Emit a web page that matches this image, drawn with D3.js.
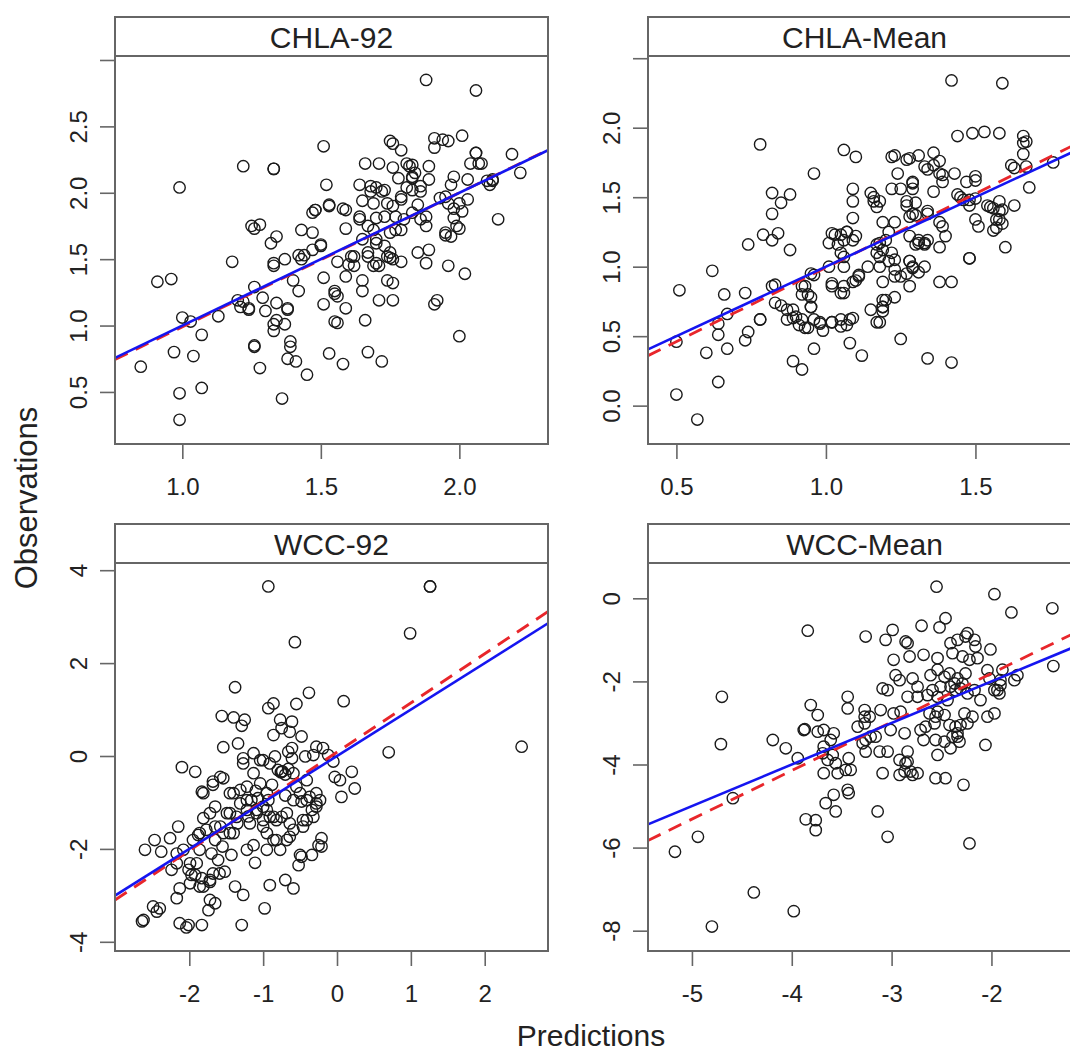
<!DOCTYPE html>
<html>
<head>
<meta charset="utf-8">
<script src="https://cdnjs.cloudflare.com/ajax/libs/d3/7.8.5/d3.min.js"></script>
<style>
body { margin: 0; background: #fff; }
svg { display: block; font-family: "Liberation Sans", Arial, sans-serif; }
</style>
</head>
<body>
<svg id="chart" width="1070" height="1055"></svg>
<script>
// panel titles
var panelNames = ["CHLA-92", "CHLA-Mean", "WCC-92", "WCC-Mean"];

var chla92 = [
  [1.88,2.85],[2.06,2.77],[1.51,2.35],[1.22,2.20],[1.33,2.18],[1.33,2.18],[0.99,2.04],[1.52,2.06],[1.75,2.39],[1.76,2.37],
  [1.79,2.32],[1.91,2.41],[1.94,2.40],[1.96,2.39],[2.01,2.43],[1.91,2.34],[2.06,2.30],[2.19,2.29],[2.22,2.15],[2.14,1.80],
  [2.04,2.22],[2.08,2.22],[2.03,2.10],[1.98,2.12],[2.12,2.09],[2.11,2.06],[1.97,2.06],[1.93,1.96],[1.96,1.92],[2.03,1.95],
  [2.01,1.86],[1.98,1.81],[2.00,1.73],[1.95,1.70],[1.97,1.67],[1.96,1.45],[2.02,1.39],[2.00,0.92],[1.92,1.19],[1.91,1.16],
  [1.88,1.47],[1.85,1.55],[1.89,1.57],[1.88,1.75],[1.86,1.80],[1.83,1.85],[1.85,1.91],[1.89,2.10],[1.89,2.20],[1.83,2.21],
  [1.83,2.12],[1.86,2.05],[1.81,2.04],[1.79,1.95],[1.76,2.19],[1.71,2.22],[1.66,2.22],[1.68,2.05],[1.70,2.04],[1.72,2.01],
  [1.64,2.06],[1.65,1.94],[1.69,1.92],[1.74,1.92],[1.76,1.90],[1.77,1.82],[1.79,1.72],[1.75,1.70],[1.70,1.81],[1.64,1.82],
  [1.67,1.75],[1.59,1.73],[1.65,1.65],[1.70,1.65],[1.73,1.60],[1.75,1.55],[1.76,1.50],[1.79,1.48],[1.74,1.52],[1.69,1.45],
  [1.67,1.52],[1.62,1.52],[1.60,1.46],[1.56,1.48],[1.59,1.37],[1.71,1.45],[1.74,1.34],[1.76,1.32],[1.71,1.19],[1.76,1.19],
  [1.65,1.26],[1.66,1.04],[1.67,0.80],[1.72,0.73],[1.58,0.71],[1.53,0.79],[1.55,1.03],[1.56,1.02],[1.59,1.13],[1.56,1.22],
  [1.55,1.26],[1.51,1.16],[1.51,1.36],[1.45,0.63],[1.39,0.84],[1.38,0.75],[1.41,0.73],[1.36,0.45],[1.28,0.68],[1.26,0.84],
  [1.33,1.01],[1.33,0.96],[1.37,1.01],[1.38,1.13],[1.34,1.17],[1.30,1.11],[1.29,1.21],[1.26,1.29],[1.42,1.26],[1.40,1.34],
  [1.33,1.45],[1.37,1.50],[1.43,1.50],[1.44,1.53],[1.50,1.60],[1.47,1.57],[1.32,1.62],[1.34,1.67],[1.43,1.72],[1.47,1.70],
  [1.25,1.75],[1.28,1.76],[1.26,1.73],[1.47,1.85],[1.48,1.87],[1.53,1.90],[1.58,1.88],[1.59,1.87],[1.18,1.48],[1.20,1.19],
  [1.21,1.14],[1.24,1.12],[1.13,1.07],[1.00,1.06],[1.03,1.03],[1.07,0.93],[0.97,0.80],[1.04,0.77],[0.85,0.69],[0.99,0.49],
  [1.07,0.53],[0.99,0.29],[0.91,1.33],[0.96,1.35],
  [1.68,2.01],[1.73,2.02],[1.78,2.11],[1.82,2.20],[1.83,2.11],[1.79,1.97],[1.83,2.02],[1.86,2.01],[1.73,1.82],[1.64,1.80],
  [1.69,1.72],[1.75,1.51],[1.48,1.87],[1.42,1.53],[1.50,1.61],[1.61,1.52],[1.62,1.45],[1.67,1.55],[1.70,1.47],[1.70,1.62],
  [1.77,1.72],[1.80,1.80],[1.88,1.82],[1.95,1.97],[1.98,1.88],[2.00,1.92],[1.99,1.75],[1.95,1.68],[2.06,2.30],[2.07,2.22],
  [2.10,2.09],[1.81,2.22],[1.65,1.34],[1.55,1.24],[1.33,1.47],[1.34,1.04],[1.38,1.12],[1.39,0.88],[1.26,0.85],[1.24,1.13],
  [1.22,1.18],[1.53,1.91],[1.84,2.15],[2.12,2.10]
];

var chlaMean = [
  [1.42,2.34],[1.59,2.32],[0.78,1.88],[1.06,1.84],[1.10,1.79],[0.96,1.67],[1.44,1.94],[1.49,1.96],[1.53,1.97],[1.58,1.96],
  [1.66,1.94],[1.67,1.90],[1.66,1.81],[1.62,1.73],[1.63,1.71],[1.67,1.72],[1.68,1.57],[1.76,1.75],[1.63,1.44],[1.60,1.14],
  [1.57,1.28],[1.58,1.34],[1.59,1.41],[1.56,1.42],[1.54,1.44],[1.58,1.47],[1.50,1.65],[1.50,1.62],[1.47,1.61],[1.45,1.50],
  [1.48,1.48],[1.50,1.34],[1.51,1.29],[1.48,1.06],[1.48,1.06],[1.38,0.89],[1.42,0.89],[1.42,0.31],[1.34,0.34],[1.25,0.48],
  [1.38,1.32],[1.39,1.29],[1.38,1.14],[1.40,1.22],[1.34,1.19],[1.33,1.00],[1.34,1.38],[1.36,1.54],[1.39,1.66],[1.36,1.73],
  [1.36,1.82],[1.38,1.76],[1.33,1.72],[1.31,1.80],[1.28,1.78],[1.23,1.80],[1.22,1.79],[1.24,1.67],[1.29,1.61],[1.29,1.56],
  [1.25,1.56],[1.22,1.56],[1.30,1.46],[1.27,1.44],[1.29,1.38],[1.28,1.36],[1.28,1.22],[1.31,1.19],[1.30,1.16],[1.33,1.17],
  [1.28,1.04],[1.29,1.00],[1.31,0.96],[1.28,0.86],[1.25,0.93],[1.23,1.32],[1.21,1.25],[1.22,1.10],[1.23,1.05],[1.23,0.93],
  [1.23,0.78],[1.20,0.76],[1.19,0.71],[1.19,0.68],[1.18,0.60],[1.15,0.69],[1.19,0.89],[1.18,1.00],[1.17,1.10],[1.18,1.17],
  [1.20,1.19],[1.19,1.32],[1.15,1.53],[1.16,1.50],[1.18,1.47],[1.17,1.43],[1.14,1.00],[1.11,0.93],[1.09,0.89],[1.09,1.56],
  [1.09,1.47],[1.09,1.35],[1.07,1.25],[1.10,1.22],[1.06,1.19],[1.03,1.23],[1.01,1.17],[1.05,1.10],[1.06,1.00],[1.01,1.00],
  [1.02,0.86],[1.06,0.81],[1.05,0.62],[1.07,0.58],[1.09,0.63],[1.02,0.60],[0.99,0.54],[0.98,0.59],[0.96,0.62],[0.94,0.56],
  [0.96,0.41],[0.95,0.71],[0.94,0.80],[0.96,0.94],[0.92,0.86],[0.89,0.69],[0.90,0.64],[0.87,0.62],[0.91,0.58],[0.85,0.72],
  [0.82,0.86],[0.89,0.32],[0.92,0.26],[1.12,0.36],[1.08,0.45],[0.88,1.12],[0.82,1.19],[0.79,1.23],[0.84,1.24],[0.82,1.38],
  [0.85,1.46],[0.82,1.53],[0.88,1.52],[0.74,1.16],[0.73,0.81],[0.78,0.62],[0.78,0.62],[0.74,0.53],[0.73,0.47],[0.62,0.97],
  [0.51,0.83],[0.66,0.80],[0.67,0.66],[0.67,0.41],[0.64,0.51],[0.60,0.38],[0.50,0.46],[0.64,0.17],[0.50,0.08],[0.57,-0.10],
  [0.64,0.59],
  [1.27,1.77],[1.34,1.70],[1.38,1.67],[1.39,1.61],[1.43,1.67],[1.29,1.60],[1.16,1.47],[1.27,1.47],[1.30,1.37],[1.34,1.40],
  [1.02,1.24],[1.05,1.23],[1.07,1.25],[1.09,1.19],[1.04,1.16],[1.06,1.07],[1.17,1.16],[1.19,1.12],[1.18,1.07],[1.21,1.04],
  [1.23,0.98],[1.28,1.04],[1.29,0.99],[1.27,0.95],[1.31,1.17],[1.33,1.16],[1.55,1.43],[1.58,1.40],[1.57,1.34],[1.59,1.31],
  [1.56,1.26],[1.19,0.76],[1.19,0.71],[1.17,0.60],[1.02,0.88],[1.05,0.81],[1.06,0.86],[1.10,0.90],[1.11,0.94],[0.95,0.95],
  [0.93,0.86],[0.92,0.80],[0.95,0.78],[0.95,0.71],[0.83,0.87],[0.83,0.74],[0.87,0.69],[0.89,0.63],[0.92,0.62],[0.93,0.56],
  [0.98,0.60],[1.02,0.60],[1.05,0.57],[1.08,0.62],[1.44,1.52],[1.46,1.48],[1.48,1.44],[1.50,1.49],[1.66,1.89]
];

var wcc92 = [
  [-0.93,3.65],[1.26,3.65],[1.26,3.65],[0.99,2.64],[-0.57,2.45],[2.50,0.20],[0.70,0.08],[-1.38,1.48],[-0.38,1.36],[0.09,1.18],
  [-0.93,1.03],[-0.86,1.13],[-0.55,1.12],[-1.56,0.86],[-1.40,0.83],[-1.25,0.78],[-1.29,0.65],[-0.77,0.78],[-0.61,0.74],[-0.86,0.45],
  [-0.75,0.60],[-0.64,0.52],[-0.48,0.42],[-1.54,0.19],[-1.34,0.27],[-1.27,-0.05],[-1.13,0.06],[-1.00,-0.09],[-0.84,-0.01],[-0.66,0.09],
  [-0.61,-0.05],[-0.43,-0.01],[-0.32,0.02],[-0.19,0.17],[-0.05,-0.12],[-0.03,-0.45],[0.20,-0.34],[0.24,-0.70],[0.06,-0.88],[-2.10,-0.24],
  [-1.92,-0.34],[-1.54,-0.48],[-1.68,-0.62],[-1.83,-0.77],[-1.65,-1.09],[-1.81,-1.34],[-1.88,-1.70],[-2.15,-1.52],[-2.26,-1.77],[-2.47,-1.81],
  [-2.60,-2.02],[-2.38,-2.06],[-2.24,-2.45],[-2.01,-2.45],[-1.97,-2.56],[-2.17,-3.06],[-2.13,-2.85],[-1.81,-2.81],[-1.72,-2.67],[-1.59,-2.53],
  [-1.52,-2.49],[-1.61,-2.24],[-1.43,-2.13],[-1.38,-2.81],[-1.27,-2.99],[-1.11,-2.30],[-1.22,-2.02],[-1.13,-1.92],[-0.98,-3.28],[-0.91,-2.78],
  [-0.70,-2.67],[-0.59,-2.85],[-1.29,-3.64],[-2.62,-3.53],[-2.64,-3.56],[-2.49,-3.24],[-2.44,-3.35],[-2.40,-3.28],[-2.13,-3.60],[-2.01,-3.64],
  [-2.04,-3.69],[-1.83,-3.64],[-1.74,-3.32],[-1.65,-3.17],[-0.50,-2.13],[-0.52,-2.35],[-0.34,-2.13],[-0.25,-1.92],[-0.21,-1.77],[-0.64,-1.74],
  [-0.64,-1.45],[-0.75,-1.31],
  [-2.17,-2.10],[-1.90,-2.31],[-0.86,-1.81],[-0.77,-2.02],[-0.95,-2.02],[-0.95,-1.66],[-1.00,-1.52],[-0.32,-1.31],[-0.28,-1.09],[-0.37,-0.88],
  [-0.48,-0.98],[-0.23,-0.95],[-0.46,-1.38],[0.04,-0.52],[-1.22,-0.95],[-1.07,-0.91],[-0.93,-0.95],[-1.09,-1.23],[-0.95,-1.16],[-0.86,-1.31],
  [-1.00,-1.38],[-1.18,-1.45],[-1.40,-0.80],[-1.31,-1.02],[-1.49,-1.23],[-1.36,-1.31],[-1.22,-1.16],[-1.72,-1.23],[-1.58,-1.52],[-1.77,-1.59],
  [-1.65,-1.81],[-1.45,-1.66],[-1.95,-1.81],[-1.86,-2.02],[-2.08,-2.02],[-0.75,-0.34],[-0.74,-0.33],[-0.76,-0.35],[-0.55,-0.66],[-0.41,-0.52],
  [-0.28,-0.80],[-0.59,-0.37],[-1.13,-0.37],[-1.22,-0.66],[-1.04,-0.59],[-0.95,-0.80],
  [-1.04,-0.09],[-1.27,-0.16],[-0.91,-0.16],[-0.61,0.17],[-0.28,0.20],[-0.12,0.02],[-1.81,-0.80],[-1.68,-0.55],[-1.58,-0.45],[-1.45,-0.80],
  [-1.31,-0.73],[-1.16,-0.95],[-1.45,-1.23],[-1.65,-1.52],[-1.86,-1.66],[-1.54,-1.66],[-1.40,-1.66],[-1.09,-1.16],[-1.00,-1.09],[-0.91,-1.31],
  [-0.82,-1.38],[-0.68,-1.23],[-0.59,-0.95],[-0.50,-0.80],[-0.41,-0.95],[-0.34,-1.16],[-0.41,-1.38],[-0.28,-1.02],[-0.82,-1.81],[-0.68,-1.81],
  [-0.59,-1.59],[-0.46,-1.52],[-0.21,-1.95],[-0.48,-2.17],[-2.17,-2.31],[-1.99,-2.31],[-1.92,-2.56],[-1.83,-2.63],[-1.68,-2.53],[-1.72,-2.71],
  [-1.99,-2.74],[-1.86,-2.81],[-1.72,-3.10],
  [-0.80,-0.30],[-0.70,-0.40],[-0.66,-0.28],[-1.10,-0.75],[-0.88,-0.62],[-0.70,-0.85],[-1.20,-1.30],[-1.35,-1.45],[-1.55,-1.95],[-1.70,-2.10]
];

var wccMean = [
  [-2.55,0.28],[-1.97,0.10],[-1.80,-0.34],[-1.39,-0.24],[-1.38,-1.63],[-3.84,-0.78],[-3.26,-0.92],[-3.06,-1.00],[-2.99,-0.76],[-2.70,-0.66],
  [-2.52,-0.70],[-2.46,-0.48],[-2.84,-1.08],[-2.82,-1.40],[-2.98,-1.48],[-2.68,-1.36],[-2.54,-1.44],[-2.41,-1.08],[-2.34,-1.00],[-2.26,-0.92],
  [-2.16,-1.16],[-2.01,-1.23],[-2.14,-1.44],[-2.04,-1.73],[-1.91,-1.97],[-1.77,-1.97],[-1.94,-2.21],[-1.97,-2.77],[-2.06,-3.53],[-2.22,-5.90],
  [-2.28,-4.49],[-2.46,-4.33],[-2.56,-4.33],[-2.54,-3.77],[-2.41,-3.61],[-2.34,-3.33],[-2.31,-3.05],[-2.71,-3.17],[-2.68,-3.41],[-2.57,-3.01],
  [-3.04,-5.74],[-3.14,-5.13],[-2.87,-3.25],[-4.19,-3.41],[-4.06,-3.61],[-3.94,-3.85],[-4.59,-4.81],[-4.70,-2.37],[-4.71,-3.51],[-4.94,-5.74],
  [-5.17,-6.10],[-4.38,-7.08],[-3.98,-7.53],[-4.80,-7.90],
  [-2.24,-3.01],[-2.27,-2.77],[-2.62,-2.77],[-2.54,-2.73],[-2.84,-3.69],[-2.92,-3.89],[-2.86,-3.97],[-2.81,-4.17],[-2.74,-4.21],[-2.92,-4.25],
  [-3.09,-4.21],[-3.12,-3.69],[-3.04,-3.69],[-3.16,-3.33],[-3.26,-3.69],[-3.26,-3.41],[-3.27,-3.01],[-3.34,-3.09],[-3.44,-2.37],[-3.44,-2.65],
  [-3.27,-2.69],[-3.27,-2.85],[-3.58,-3.25],[-3.61,-3.41],[-3.68,-3.17],[-3.74,-3.21],[-3.81,-2.57],[-3.74,-2.81],[-3.88,-3.17],[-3.87,-3.15],
  [-3.69,-3.73],[-3.64,-3.89],[-3.68,-4.21],[-3.56,-3.97],[-3.43,-3.85],[-3.46,-4.13],[-3.54,-4.21],[-3.44,-4.61],[-3.43,-4.69],[-3.58,-4.73],
  [-3.66,-4.93],[-3.56,-5.13],[-3.86,-5.32],[-3.76,-5.34],[-3.76,-5.58],
  [-2.86,-1.04],[-2.24,-0.84],[-2.17,-1.00],[-2.39,-1.32],[-2.96,-1.85],[-2.92,-1.97],[-2.79,-1.93],[-2.61,-1.85],[-2.54,-1.72],[-2.47,-1.89],
  [-2.42,-1.81],[-2.34,-1.93],[-2.29,-2.05],[-2.26,-1.81],[-2.22,-1.48],[-2.29,-1.40],[-2.02,-1.93],[-1.89,-1.72],[-1.74,-1.85],[-3.09,-2.17],
  [-3.04,-2.21],[-2.84,-2.37],[-2.74,-2.37],[-2.64,-2.33],[-2.54,-2.37],[-2.44,-2.45],[-2.36,-2.21],[-2.24,-2.29],[-2.17,-2.21],[-2.11,-2.45],
  [-1.97,-2.21],[-1.92,-2.29],[-1.91,-2.09],[-3.22,-2.85],[-3.11,-2.69],[-2.98,-2.77],[-2.91,-2.73],[-3.21,-3.33],[-3.01,-3.17],[-2.66,-3.09],
  [-2.56,-2.85],[-2.47,-2.81],[-2.42,-3.05],[-2.36,-3.09],[-2.19,-2.85],[-2.04,-2.85],[-3.68,-3.57],[-3.59,-3.77],[-3.41,-4.13],[-3.29,-3.49],
  [-2.84,-3.93],[-2.87,-4.17],[-2.79,-4.25],[-2.56,-3.41],[-2.47,-3.45],[-2.39,-3.33],[-2.34,-3.25],[-2.32,-3.45],
  [-2.37,-2.05],[-2.31,-2.17],[-2.51,-2.13],[-2.41,-2.13],[-2.59,-2.21],[-2.74,-2.13]
];

// axis ranges and ticks
var xRanges = [[0.757, 2.32], [0.405, 1.853], [-3.006, 2.857], [-5.44, -1.103]];
var yRanges = [[0.108, 3.03], [-0.276, 2.516], [-4.198, 4.155], [-8.489, 0.85]];
var xTicks = [[1.0, 1.5, 2.0], [0.5, 1.0, 1.5], [-2, -1, 0, 1, 2], [-5, -4, -3, -2]];
var xTickLabels = [["1.0", "1.5", "2.0"], ["0.5", "1.0", "1.5"], ["-2", "-1", "0", "1", "2"], ["-5", "-4", "-3", "-2"]];
var yTicks = [[0.5, 1.0, 1.5, 2.0, 2.5, 3.0], [0.0, 0.5, 1.0, 1.5, 2.0, 2.5], [-4, -2, 0, 2, 4], [-8, -6, -4, -2, 0]];
var yTickLabels = [["0.5", "1.0", "1.5", "2.0", "2.5", ""], ["0.0", "0.5", "1.0", "1.5", "2.0", ""],
                   ["-4", "-2", "0", "2", "4"], ["-8", "-6", "-4", "-2", "0"]];

// red dashed fit line (intercept, slope); blue is the 1:1 line
var fitIntercept = [-0.02, -0.071, 0.083, 0.53];
var fitSlope = [1.01, 1.064, 1.059, 1.169];

var sets = [chla92, chlaMean, wcc92, wccMean];

var svg = d3.select("#chart");
var colX = [115, 648];
var stripTop = [17, 524];
var stripH = 39, plotW = 433, plotH = 388;
var grey = "#666", ink = "#222";

function drawPanel(i) {
    var left = colX[i % 2];
    var top = stripTop[Math.floor(i / 2)] + stripH;
    var g = svg.append("g").attr("transform", "translate(" + left + "," + top + ")");

    var x = d3.scaleLinear().domain(xRanges[i]).range([0, plotW]);
    var y = d3.scaleLinear().domain(yRanges[i]).range([plotH, 0]);

    g.append("clipPath").attr("id", "clip" + i)
        .append("rect").attr("width", plotW).attr("height", plotH);

    var inner = g.append("g").attr("clip-path", "url(#clip" + i + ")");

    inner.selectAll("circle").data(sets[i]).join("circle")
        .attr("cx", d => x(d[0]))
        .attr("cy", d => y(d[1]))
        .attr("r", 5.7)
        .attr("fill", "none")
        .attr("stroke", "#1a1a1a")
        .attr("stroke-width", 1.4);

    // fitted line (red dashed) under the 1:1 line (blue)
    var fit = d3.line().x(d => x(d)).y(d => y(fitIntercept[i] + fitSlope[i] * d));
    inner.append("path").datum(xRanges[i]).attr("d", fit)
        .attr("stroke", "#e8262b").attr("stroke-width", 2.8)
        .attr("stroke-dasharray", "14,9").attr("fill", "none");

    var oneToOne = d3.line().x(d => x(d)).y(d => y(d));
    inner.append("path").datum(xRanges[i]).attr("d", oneToOne)
        .attr("stroke", "#1515f0").attr("stroke-width", 2.6).attr("fill", "none");

    // axes
    var xAxis = d3.axisBottom(x).tickValues(xTicks[i]).tickSize(15)
        .tickFormat((d, j) => xTickLabels[i][j]);
    var gx = g.append("g").attr("transform", "translate(0," + plotH + ")").call(xAxis);
    gx.select(".domain").remove();
    gx.selectAll("line").attr("stroke", grey).attr("stroke-width", 1.6);
    gx.selectAll("text").attr("y", 51).attr("dy", null)
        .attr("fill", ink).style("font-size", "24px");

    var yAxis = d3.axisLeft(y).tickValues(yTicks[i]).tickSize(15)
        .tickFormat((d, j) => yTickLabels[i][j]);
    var gy = g.append("g").call(yAxis);
    gy.select(".domain").remove();
    gy.selectAll("line").attr("stroke", grey).attr("stroke-width", 1.6);
    gy.selectAll("text")
        .attr("transform", "rotate(-90)")
        .attr("x", 0).attr("y", -28).attr("dy", null)
        .attr("text-anchor", "middle")
        .attr("fill", ink).style("font-size", "24px");

    // plot box and strip
    g.append("rect").attr("width", plotW).attr("height", plotH)
        .attr("fill", "none").attr("stroke", grey).attr("stroke-width", 2);
    g.append("rect").attr("y", -stripH).attr("width", plotW).attr("height", stripH)
        .attr("fill", "#fff").attr("stroke", grey).attr("stroke-width", 2);
    g.append("text").attr("x", plotW / 2).attr("y", -8)
        .attr("text-anchor", "middle").attr("fill", ink)
        .style("font-size", "30px").text(panelNames[i]);
}

for (var i = 0; i < 4; i++) drawPanel(i);

svg.append("text").attr("transform", "translate(37,498) rotate(-90)")
    .attr("text-anchor", "middle").attr("fill", ink)
    .style("font-size", "31px").text("Observations");

svg.append("text").attr("x", 591).attr("y", 1046)
    .attr("text-anchor", "middle").attr("fill", ink)
    .style("font-size", "30px").text("Predictions");
</script>
</body>
</html>
